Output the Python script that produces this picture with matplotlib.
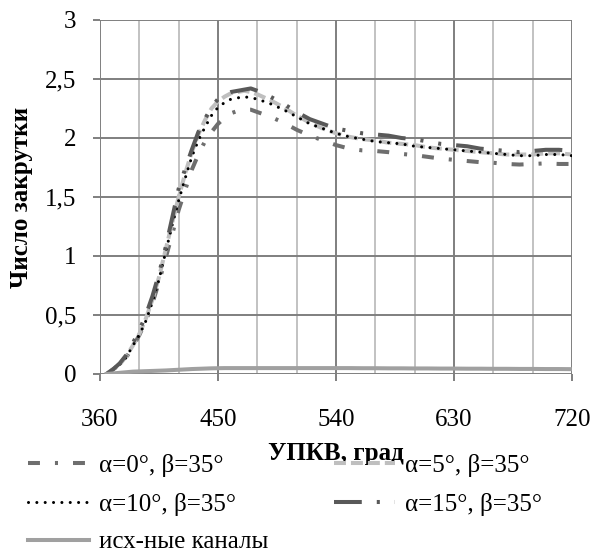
import matplotlib
matplotlib.use("Agg")
import matplotlib.pyplot as plt
from matplotlib.ticker import FuncFormatter

# crank angle, deg
angle = [365, 370, 375, 380, 385, 390, 395, 400, 405, 410, 415, 420, 425, 430,
         435, 440, 445, 450, 455, 460, 465, 470, 475, 480, 490, 500, 510, 520,
         530, 540, 550, 560, 570, 580, 590, 600, 610, 620, 630, 640, 650, 660,
         670, 680, 690, 700, 710, 720]

# swirl number
swirl_a0 = [0.0, 0.04, 0.08, 0.14, 0.23, 0.33, 0.45, 0.60, 0.78, 0.98, 1.18, 1.39,
            1.56, 1.73, 1.86, 1.97, 2.05, 2.12, 2.17, 2.21, 2.23, 2.24, 2.24, 2.22,
            2.18, 2.13, 2.07, 2.02, 1.98, 1.94, 1.91, 1.895, 1.89, 1.88, 1.865,
            1.855, 1.84, 1.825, 1.815, 1.805, 1.795, 1.79, 1.78, 1.775, 1.78,
            1.785, 1.78, 1.78]
swirl_a5 = [0.0, 0.04, 0.08, 0.15, 0.24, 0.34, 0.47, 0.63, 0.82, 1.05, 1.28, 1.50,
            1.70, 1.88, 2.03, 2.15, 2.25, 2.31, 2.35, 2.38, 2.39, 2.40, 2.39, 2.37,
            2.32, 2.26, 2.19, 2.13, 2.08, 2.04, 2.01, 1.99, 1.98, 1.96, 1.95, 1.94,
            1.92, 1.91, 1.90, 1.89, 1.88, 1.87, 1.86, 1.86, 1.86, 1.87, 1.87, 1.86]
swirl_a10 = [0.0, 0.04, 0.08, 0.14, 0.24, 0.33, 0.45, 0.61, 0.80, 1.03, 1.26, 1.47,
             1.66, 1.84, 1.98, 2.09, 2.19, 2.26, 2.30, 2.33, 2.34, 2.35, 2.34, 2.33,
             2.29, 2.24, 2.18, 2.12, 2.08, 2.04, 2.01, 1.99, 1.97, 1.96, 1.95, 1.93,
             1.92, 1.91, 1.90, 1.89, 1.88, 1.87, 1.86, 1.85, 1.85, 1.86, 1.86, 1.85]
swirl_a15 = [0.0, 0.04, 0.09, 0.16, 0.26, 0.37, 0.50, 0.66, 0.85, 1.07, 1.32, 1.57,
             1.74, 1.90, 2.05, 2.16, 2.26, 2.33, 2.37, 2.39, 2.40, 2.41, 2.42, 2.40,
             2.35, 2.29, 2.22, 2.16, 2.12, 2.08, 2.06, 2.04, 2.03, 2.02, 2.00, 1.99,
             1.97, 1.95, 1.94, 1.93, 1.91, 1.90, 1.89, 1.88, 1.89, 1.90, 1.90, 1.89]
swirl_base = [0.0, 0.005, 0.01, 0.015, 0.02, 0.022, 0.024, 0.026, 0.028, 0.03,
              0.033, 0.036, 0.039, 0.042, 0.044, 0.046, 0.048, 0.049, 0.05, 0.05,
              0.05, 0.05, 0.05, 0.05, 0.05, 0.05, 0.05, 0.05, 0.05, 0.05, 0.05,
              0.049, 0.049, 0.048, 0.048, 0.047, 0.047, 0.046, 0.046, 0.045, 0.045,
              0.044, 0.044, 0.043, 0.043, 0.042, 0.042, 0.041]

x_major = [360, 450, 540, 630, 720]
x_minor = [390, 420, 480, 510, 570, 600, 660, 690]
y_ticks = [0, 0.5, 1, 1.5, 2, 2.5, 3]

labels = ["α=0°, β=35°", "α=5°, β=35°", "α=10°, β=35°", "α=15°, β=35°",
          "исх-ные каналы"]

plt.rcParams['font.family'] = ['Liberation Serif', 'DejaVu Serif']

GRID = '#7f7f7f'
GRID_LIGHT = '#c2c2c2'


def dash(lw, *pts):
    # dash lengths given in points; matplotlib scales them by the line width
    return tuple(p / lw for p in pts)


fig = plt.figure(figsize=(5.94, 5.56), dpi=100)
ax = fig.add_axes([100 / 594, 1 - 374 / 556, 472 / 594, 354 / 556])

# grid drawn as plain lines so they sit under the curves
ax.vlines(x_minor, 0, 3, colors=GRID_LIGHT, linewidth=1.4, zorder=0.6)
ax.vlines(x_major, 0, 3, colors=GRID, linewidth=1.4, zorder=0.7)
ax.hlines(y_ticks, 360, 720, colors=GRID, linewidth=1.4, zorder=0.7)

ax.set_xlim(360, 720)
ax.set_ylim(0, 3)
ax.set_xticks(x_major)
ax.set_yticks(y_ticks)
ax.yaxis.set_major_formatter(FuncFormatter(lambda v, p: f"{v:g}".replace('.', ',')))
for s in ax.spines.values():
    s.set_visible(False)
ax.tick_params(direction='out', length=5, width=1.4,
               color=GRID, labelsize=18, pad=12)
ax.tick_params(axis='x', pad=20)

l0, = ax.plot(angle, swirl_a0, color='#6e6e6e', lw=2.9,
              dashes=dash(2.9, 8.6, 10.8, 2.2, 10.8), label=labels[0])
l5, = ax.plot(angle, swirl_a5, color='#bfbfbf', lw=2.9,
              dashes=dash(2.9, 8.6, 3.6), label=labels[1])
l10, = ax.plot(angle, swirl_a10, color='black', lw=2.2,
               dashes=dash(2.2, 0.01, 6.0), dash_capstyle='round', label=labels[2])
l15, = ax.plot(angle, swirl_a15, color='#595959', lw=2.9,
               dashes=dash(2.9, 20, 10.8, 2.2, 10.8, 2.2, 10.8), label=labels[3])
lb, = ax.plot(angle, swirl_base, color='#a0a0a0', lw=2.9, label=labels[4])

ax.set_xlabel("УПКВ, град", fontsize=18, fontweight='bold', labelpad=8)
ax.set_ylabel("Число закрутки", fontsize=18, fontweight='bold')
ax.yaxis.set_label_coords(-0.142, 0.5)

fig.legend(handles=[l0, l10, lb, l5, l15], ncol=2, loc='upper left',
           bbox_to_anchor=(28 / 594, 1 - 454 / 556), frameon=False,
           fontsize=18, handlelength=2.45, handletextpad=0.4,
           columnspacing=2.6, labelspacing=0.62, borderpad=0, borderaxespad=0)

fig.savefig("out.png", dpi=100)
